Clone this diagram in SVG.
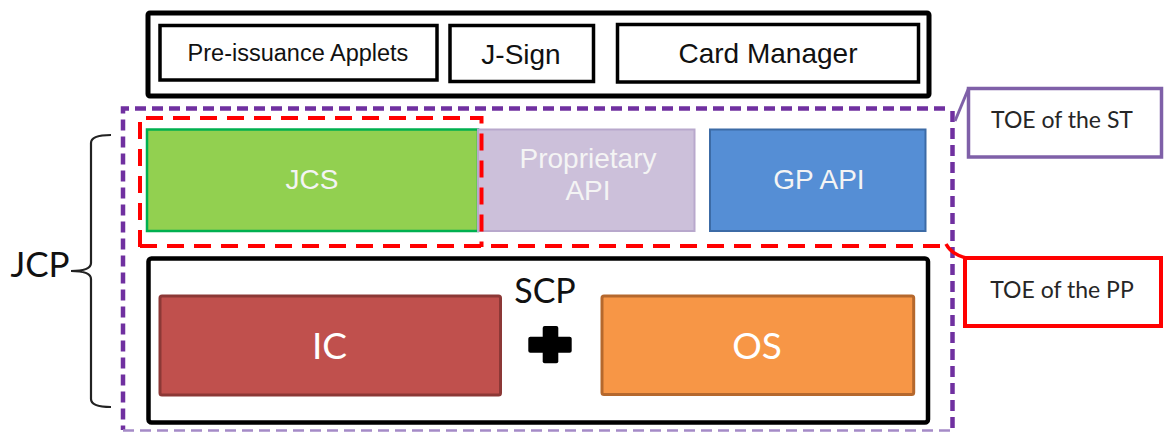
<svg xmlns="http://www.w3.org/2000/svg" width="1170" height="432" viewBox="0 0 1170 432">
<style>
  .box { fill: #ffffff; stroke: #000000; }
  .arial { font-family: "Liberation Sans", Arial, sans-serif; }
  .cal { font-family: Lato, "Open Sans", sans-serif; }
  .dark { fill: #111111; }
  .light { fill: #F4F4F4; }
  .white { fill: #FFFFFF; }
  .purple-dash { fill: none; stroke: #7030A0; stroke-width: 4.5; stroke-dasharray: 11 6; }
  .red-dash { fill: none; stroke: #FF0000; stroke-width: 4; stroke-dasharray: 17 10; }
</style>
<rect width="1170" height="432" fill="#ffffff"/>

<g id="applet-layer">
  <rect class="box" x="148" y="13" width="781" height="83" rx="2" stroke-width="5"/>
</g>
<g id="pre-issuance-applets">
  <rect class="box" x="160" y="25.5" width="277" height="54.5" stroke-width="3.5"/>
  <text class="arial dark" x="298" y="60.5" font-size="23.5" text-anchor="middle">Pre-issuance Applets</text>
</g>
<g id="j-sign">
  <rect class="box" x="450" y="25.5" width="143.5" height="56" stroke-width="3.5"/>
  <text class="arial dark" x="521" y="64" font-size="28" text-anchor="middle">J-Sign</text>
</g>
<g id="card-manager">
  <rect class="box" x="617.5" y="24.5" width="301" height="57.5" stroke-width="3.5"/>
  <text class="arial dark" x="768" y="63.3" font-size="28" text-anchor="middle">Card Manager</text>
</g>

<g id="jcs">
  <rect x="147" y="129.5" width="331" height="101.5" fill="#92D050" stroke="#00B050" stroke-width="2.5"/>
  <text class="arial light" x="312" y="189" font-size="28" text-anchor="middle">JCS</text>
</g>
<g id="proprietary-api">
  <rect x="478" y="129.5" width="216.5" height="101.5" fill="#CCC0DA" stroke="#B8A8CC" stroke-width="2"/>
  <text class="arial light" x="588" y="168" font-size="28" text-anchor="middle">Proprietary</text>
  <text class="arial light" x="588" y="200" font-size="28" text-anchor="middle">API</text>
</g>
<g id="gp-api">
  <rect x="710" y="129.5" width="215.5" height="101.5" fill="#558ED5" stroke="#3C6BA6" stroke-width="2"/>
  <text class="arial light" x="819" y="189" font-size="28" text-anchor="middle">GP API</text>
</g>

<g id="scp">
  <rect class="box" x="148.5" y="258.5" width="779.5" height="164" rx="3" stroke-width="4.5"/>
  <text class="cal dark" x="545" y="303.3" font-size="34" text-anchor="middle">SCP</text>
</g>
<g id="ic">
  <rect x="160" y="296" width="340.5" height="99" rx="2" fill="#C0504D" stroke="#8C3836" stroke-width="3"/>
  <text class="cal white" x="329.5" y="358.5" font-size="37" text-anchor="middle">IC</text>
</g>
<g id="plus">
  <rect x="528.3" y="336.7" width="43.4" height="16" rx="2" fill="#000000"/>
  <rect x="542.7" y="326" width="15.6" height="37.3" rx="2" fill="#000000"/>
</g>
<g id="os">
  <rect x="602" y="296" width="311.7" height="98.5" rx="2" fill="#F79646" stroke="#B5682D" stroke-width="3"/>
  <text class="cal white" x="757" y="358.5" font-size="37" text-anchor="middle">OS</text>
</g>

<g id="toe-st-boundary">
  <path class="purple-dash" d="M945,108.5 H123 V430"/>
  <path class="purple-dash" d="M952.5,111 V430"/>
  <path d="M123,430.5 H952" fill="none" stroke="#A58BC7" stroke-width="2.5" stroke-dasharray="11 6"/>
</g>
<g id="toe-pp-boundary">
  <path class="red-dash" d="M140,247 V118 H481.5 V247"/>
  <path class="red-dash" d="M140,246 H940"/>
</g>

<g id="toe-of-the-st">
  <rect x="968.5" y="88.5" width="193" height="68.5" fill="#ffffff" stroke="#7F60A8" stroke-width="3.5"/>
  <text class="cal" fill="#262626" x="1062" y="128.3" font-size="23" text-anchor="middle">TOE of the ST</text>
</g>
<g id="toe-of-the-pp">
  <rect x="965" y="258" width="196" height="68" fill="#ffffff" stroke="#FF0000" stroke-width="4"/>
  <text class="cal" fill="#262626" x="1062" y="298.3" font-size="23" text-anchor="middle">TOE of the PP</text>
</g>

<g id="jcp">
  <text class="cal dark" x="40" y="276.7" font-size="35" text-anchor="middle">JCP</text>
</g>

<g id="connectors" fill="none">
  <path d="M111,135 Q91,135 91,143 V263 Q91,271 71,271 Q91,271 91,279 V399 Q91,407 111,407" stroke="#222222" stroke-width="2.2"/>
  <line x1="955" y1="121" x2="968.5" y2="88.5" stroke="#7F60A8" stroke-width="3"/>
  <path d="M946,244 Q951,254 966,258" stroke="#FF0000" stroke-width="3.5"/>
</g>
</svg>
